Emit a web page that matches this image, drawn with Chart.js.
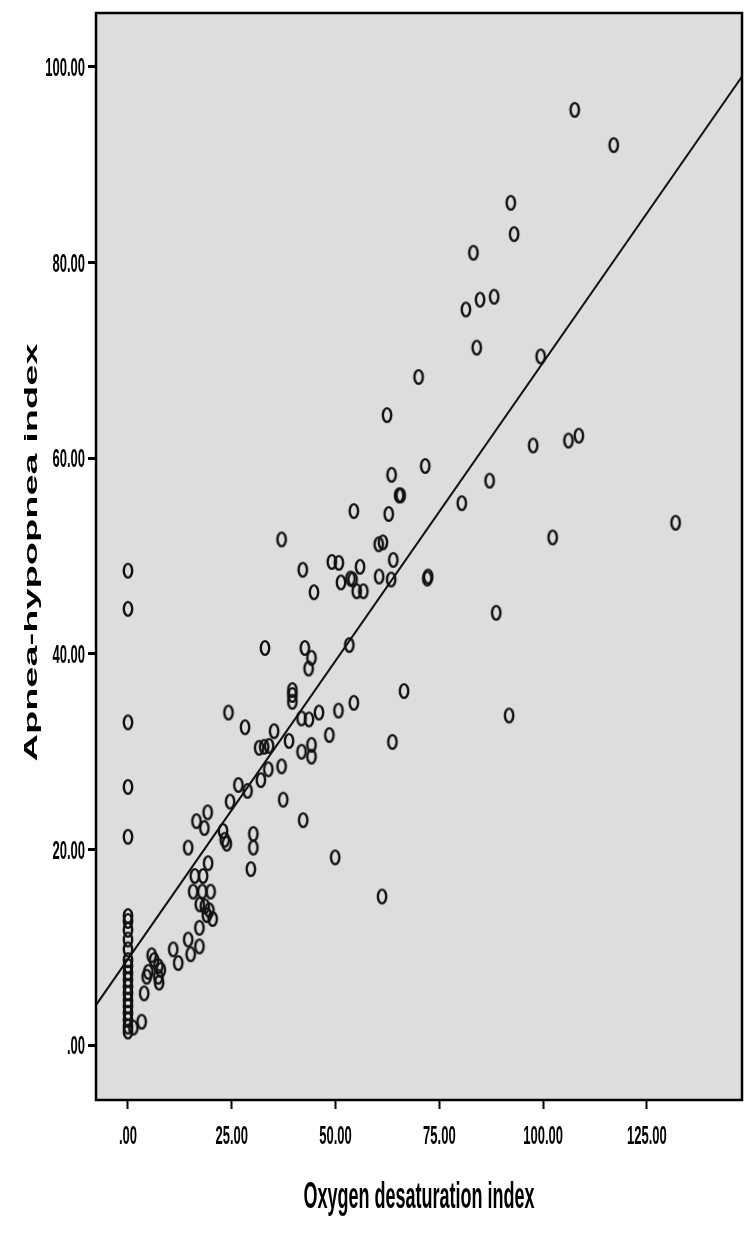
<!DOCTYPE html>
<html>
<head>
<meta charset="utf-8">
<script src="https://cdn.jsdelivr.net/npm/chart.js@4.4.1/dist/chart.umd.min.js"></script>
<style>
    html, body { margin: 0; padding: 0; background: #fff; }
    #wrap { width: 750px; height: 1250px; position: relative; }
</style>
</head>
<body>
<div id="wrap"><canvas id="chart"></canvas></div>
<script>
// --- Data ---
const odiValues = [
    0, 0, 0, 0, 0, 0, 0, 0, 0, 0, 0, 0, 0, 0, 0, 0, 0, 0, 0, 0, 0, 0,
    1.3, 3.3, 3.9, 4.5, 4.9, 5.7, 6.3, 7.3, 7.9, 7.3, 7.5, 10.9, 12.1,
    14.5, 15.1, 17.2, 17.2, 19.0, 20.4, 17.3, 18.5, 19.6, 15.7, 17.9, 19.9,
    16.1, 18.1, 19.3, 14.5, 16.5, 18.4, 19.2, 22.9, 23.3, 23.8, 30.2, 30.2, 29.6,
    24.6, 26.6, 28.8, 24.2, 28.2, 32.0, 33.8, 37.0, 37.4, 31.6, 32.8, 34.0,
    35.2, 38.8, 41.8, 44.2, 44.2, 48.5, 42.2, 49.9, 61.2, 63.7,
    41.8, 43.6, 46.0, 50.7, 54.4, 66.5, 39.6, 39.6, 39.6, 33.0, 42.6, 44.2, 43.5, 53.3,
    37.0, 42.1, 44.8, 49.1, 50.8, 51.3, 53.6, 54.1, 55.9, 55.1, 56.7, 54.4,
    60.4, 61.4, 60.5, 63.4, 63.9, 62.8, 65.3, 65.7, 63.5, 62.4, 72.1, 72.3,
    71.6, 70.0, 80.4, 87.1, 88.7, 91.8, 102.3, 97.6, 106.1, 108.6, 99.4, 131.9,
    84.0, 81.4, 84.8, 88.2, 83.2, 93.0, 92.2, 107.6, 117.0
];
const ahiValues = [
    48.5, 44.6, 33.0, 26.4, 21.3, 13.2, 12.7, 11.8, 10.8, 9.8, 8.7, 8.1, 7.4, 6.7, 6.0, 5.3, 4.6, 4.0, 3.3, 2.6, 1.9, 1.4,
    1.8, 2.4, 5.3, 7.0, 7.5, 9.2, 8.7, 8.1, 7.7, 7.0, 6.4, 9.8, 8.4,
    10.8, 9.3, 10.1, 12.0, 13.3, 12.9, 14.4, 14.2, 13.8, 15.7, 15.7, 15.7,
    17.3, 17.3, 18.6, 20.2, 22.9, 22.2, 23.8, 21.9, 21.0, 20.6, 21.6, 20.2, 18.0,
    24.9, 26.6, 26.0, 34.0, 32.5, 27.1, 28.2, 28.5, 25.1, 30.4, 30.5, 30.6,
    32.1, 31.1, 30.0, 30.7, 29.5, 31.7, 23.0, 19.2, 15.2, 31.0,
    33.4, 33.3, 34.0, 34.2, 35.0, 36.2, 36.3, 35.8, 35.1, 40.6, 40.6, 39.6, 38.5, 40.9,
    51.7, 48.6, 46.3, 49.4, 49.3, 47.3, 47.7, 47.6, 48.9, 46.4, 46.4, 54.6,
    51.2, 51.4, 47.9, 47.6, 49.6, 54.3, 56.2, 56.2, 58.3, 64.4, 47.7, 47.9,
    59.2, 68.3, 55.4, 57.7, 44.2, 33.7, 51.9, 61.3, 61.8, 62.3, 70.4, 53.4,
    71.3, 75.2, 76.2, 76.5, 81.0, 82.9, 86.1, 95.6, 92.0
];

// fit line, read at the left and right edges of the plot
const fitOdi = [-7.7, 147.9];
const fitAhi = [4.1, 99.0];

const xTicks = [0, 25, 50, 75, 100, 125];
const xTickLabels = ['.00', '25.00', '50.00', '75.00', '100.00', '125.00'];
const yTicks = [0, 20, 40, 60, 80, 100];
const yTickLabels = ['.00', '20.00', '40.00', '60.00', '80.00', '100.00'];

const xTitle = 'Oxygen desaturation index';
const yTitle = 'Apnea-hypopnea index';

// --- Styling ---
const STRETCH = 2.0; // the original image is stretched vertically
const PLOT_BG = '#dddddd';
const TICK_FONT = 'bold 13px "Liberation Sans", Arial, sans-serif';
const TITLE_FONT = 'bold 18px "Liberation Sans", Arial, sans-serif';
const YTITLE_FONT = 'bold 19px "Liberation Sans", Arial, sans-serif';

/**
 * Builds the hollow, slightly tall marker used for each case.
 */
function makeMarker() {
    const c = document.createElement('canvas');
    c.width = 14;
    c.height = 20;
    const g = c.getContext('2d');
    g.strokeStyle = '#111';
    g.lineWidth = 2.4;
    g.beginPath();
    g.ellipse(7, 10, 4.2, 6.9, 0, 0, Math.PI * 2);
    g.stroke();
    return c;
}

function drawStretched(ctx, text, x, y, font, align, rotate) {
    ctx.save();
    ctx.font = font;
    ctx.fillStyle = '#000';
    ctx.textAlign = align;
    ctx.textBaseline = 'middle';
    ctx.translate(x, y);
    if (rotate) {
        ctx.rotate(-Math.PI / 2);
        ctx.scale(STRETCH, 1);
    } else {
        ctx.scale(1, STRETCH);
    }
    ctx.fillText(text, 0, 0);
    ctx.restore();
}

// plot background, frame, tick labels and titles
const spssFrame = {
    id: 'spssFrame',
    beforeDatasetsDraw(chart) {
        const { ctx, chartArea: a } = chart;
        ctx.save();
        ctx.fillStyle = PLOT_BG;
        ctx.fillRect(a.left, a.top, a.right - a.left, a.bottom - a.top);
        ctx.restore();
    },
    afterDraw(chart) {
        const { ctx, chartArea: a, scales } = chart;
        ctx.save();
        ctx.strokeStyle = '#000';
        ctx.lineWidth = 2.5;
        ctx.strokeRect(a.left, a.top, a.right - a.left, a.bottom - a.top);
        ctx.restore();

        scales.x.ticks.forEach((t, i) => {
            drawStretched(ctx, xTickLabels[i], scales.x.getPixelForValue(t.value), 1137, TICK_FONT, 'center', false);
        });
        scales.y.ticks.forEach((t, i) => {
            drawStretched(ctx, yTickLabels[i], 85, scales.y.getPixelForValue(t.value) + 2, TICK_FONT, 'right', false);
        });

        drawStretched(ctx, xTitle, (a.left + a.right) / 2, 1198, TITLE_FONT, 'center', false);
        drawStretched(ctx, yTitle, 32, (a.top + a.bottom) / 2 - 4, YTITLE_FONT, 'center', true);
    }
};

const scatterPoints = odiValues.map((x, i) => ({ x, y: ahiValues[i] }));
const fitPoints = fitOdi.map((x, i) => ({ x, y: fitAhi[i] }));

new Chart(document.getElementById('chart'), {
    type: 'scatter',
    data: {
        datasets: [{
            label: 'Cases',
            data: scatterPoints,
            pointStyle: makeMarker(),
            pointRadius: 6,
            order: 2
        }, {
            type: 'line',
            label: 'Fit line',
            data: fitPoints,
            borderColor: '#111',
            borderWidth: 2,
            pointRadius: 0,
            fill: false,
            order: 1
        }]
    },
    options: {
        responsive: true,
        maintainAspectRatio: false,
        animation: false,
        layout: { padding: { top: 13, right: 8, left: 0, bottom: 0 } },
        plugins: {
            legend: { display: false },
            tooltip: { enabled: false }
        },
        scales: {
            x: {
                type: 'linear',
                min: -7.7,
                max: 147.9,
                afterBuildTicks: scale => { scale.ticks = xTicks.map(value => ({ value })); },
                afterFit: scale => { scale.height = 150; },
                ticks: { display: false },
                border: { display: false },
                grid: { drawOnChartArea: false, drawTicks: true, tickLength: 9, tickWidth: 2, tickColor: '#000' }
            },
            y: {
                type: 'linear',
                min: -5.6,
                max: 105.5,
                afterBuildTicks: scale => { scale.ticks = yTicks.map(value => ({ value })); },
                afterFit: scale => { scale.width = 96; },
                ticks: { display: false },
                border: { display: false },
                grid: { drawOnChartArea: false, drawTicks: true, tickLength: 8, tickWidth: 3, tickColor: '#000' }
            }
        }
    },
    plugins: [spssFrame]
});
</script>
</body>
</html>
